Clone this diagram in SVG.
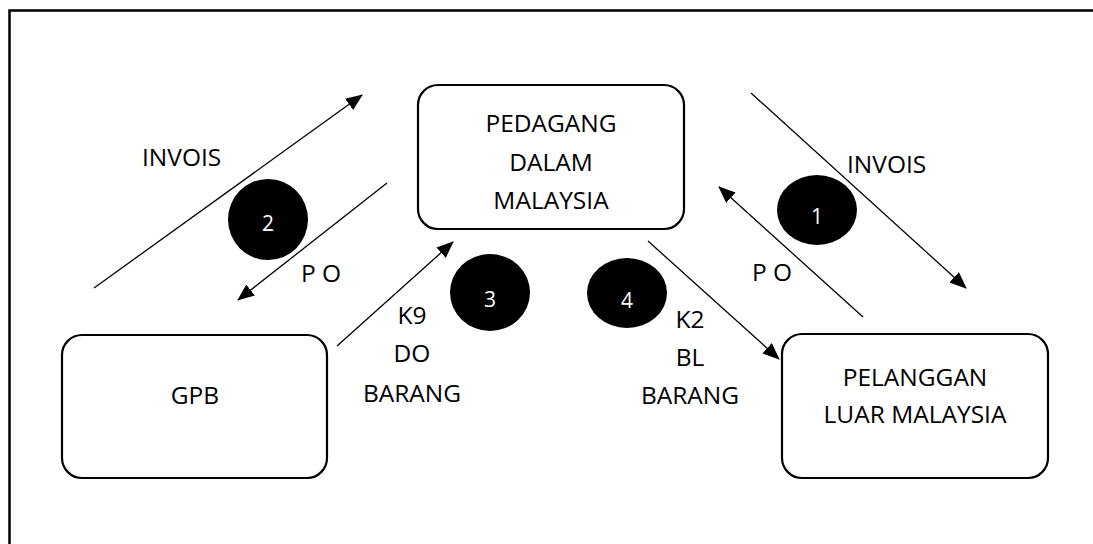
<svg xmlns="http://www.w3.org/2000/svg" width="1093" height="544" viewBox="0 0 1093 544">
<style>
.box{fill:#fff;stroke:#000;stroke-width:2.2}
.t{font-family:"Open Sans","Noto Sans",sans-serif;font-size:24.5px;fill:#000;text-anchor:middle}
.tl{font-family:"Open Sans","Noto Sans",sans-serif;font-size:24.5px;fill:#000}
.badge{fill:#000}
.n{font-family:"Open Sans","Noto Sans",sans-serif;font-size:21px;fill:#fff;text-anchor:middle}
.c{stroke:#000;stroke-width:1.3;fill:none;marker-end:url(#ah)}
</style>
<defs>
<marker id="ah" markerUnits="userSpaceOnUse" markerWidth="18" markerHeight="14" refX="16" refY="7" orient="auto">
<path d="M0,0 L17,7 L0,14 Z" fill="#000"/>
</marker>
</defs>
<rect width="1093" height="544" fill="#fff"/>
<path d="M9.5,544 V10.5 H1093" fill="none" stroke="#000" stroke-width="2.5"/>
<g id="connectors">
<line class="c" x1="94" y1="288" x2="362" y2="95"/>
<line class="c" x1="387" y1="183" x2="238" y2="300"/>
<line class="c" x1="337" y1="346" x2="453" y2="242"/>
<line class="c" x1="751" y1="93" x2="966" y2="288"/>
<line class="c" x1="863" y1="317" x2="719" y2="187"/>
<line class="c" x1="648" y1="241" x2="779" y2="359"/>
</g>
<g id="node-pedagang">
<rect class="box" x="418" y="85" width="266" height="144" rx="20"/>
<text class="t" x="551" y="132">PEDAGANG</text>
<text class="t" x="551" y="171">DALAM</text>
<text class="t" x="551" y="209">MALAYSIA</text>
</g>
<g id="node-gpb">
<rect class="box" x="62" y="335" width="265" height="143" rx="20"/>
<text class="t" x="195" y="404">GPB</text>
</g>
<g id="node-pelanggan">
<rect class="box" x="782" y="334" width="266" height="144" rx="20"/>
<text class="t" x="915" y="386">PELANGGAN</text>
<text class="t" x="915" y="423">LUAR MALAYSIA</text>
</g>
<g id="labels">
<text class="tl" x="142" y="166">INVOIS</text>
<text class="tl" x="301" y="282">P O</text>
<text class="tl" x="847" y="173">INVOIS</text>
<text class="tl" x="752" y="281">P O</text>
<text class="t" x="412" y="324">K9</text>
<text class="t" x="412" y="362">DO</text>
<text class="t" x="412" y="402">BARANG</text>
<text class="t" x="690" y="328">K2</text>
<text class="t" x="690" y="366">BL</text>
<text class="t" x="690" y="404">BARANG</text>
</g>
<g id="badge-1"><ellipse class="badge" cx="817" cy="210" rx="40" ry="35"/><text class="n" x="817" y="224">1</text></g>
<g id="badge-2"><ellipse class="badge" cx="268" cy="219.5" rx="40" ry="40.5"/><text class="n" x="268" y="231">2</text></g>
<g id="badge-3"><ellipse class="badge" cx="490" cy="292.5" rx="40" ry="38.5"/><text class="n" x="490" y="307">3</text></g>
<g id="badge-4"><ellipse class="badge" cx="627" cy="293" rx="40" ry="35"/><text class="n" x="627" y="308">4</text></g>
</svg>
